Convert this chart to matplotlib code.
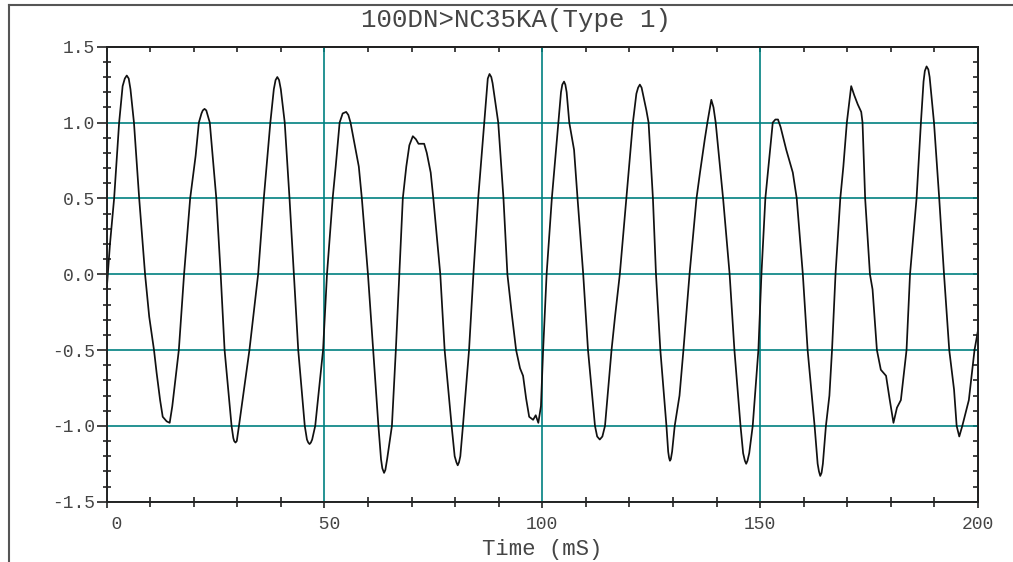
from matplotlib import pyplot as plt
from matplotlib.lines import Line2D
from matplotlib.ticker import MultipleLocator, FixedFormatter, FixedLocator

# readings: time (ms) and amplitude
t = [0.0, 0.8, 1.75, 2.9, 3.7, 4.2, 4.65, 5.1, 5.5, 6.3, 7.5, 8.85, 9.8, 10.9, 11.5, 12.3, 12.9, 13.8, 14.5,
     15.1, 16.6, 17.8, 19.2, 20.45, 21.2, 21.8, 22.1, 22.5, 22.9, 23.1, 23.7, 25.2, 26.2, 27.1, 28.7, 29.1,
     29.3, 29.6, 29.9, 30.0, 30.4, 32.8, 34.8, 36.1, 37.6, 38.4, 38.8, 39.2, 39.6, 40.0, 40.9, 42.0, 43.0,
     44.0, 45.5, 46.0, 46.3, 46.6, 46.9, 47.2, 47.9, 49.7, 50.6, 51.9, 52.6, 53.5, 54.2, 55.0, 55.5, 56.0,
     57.9, 58.6, 60.0, 61.2, 62.4, 63.0, 63.3, 63.7, 64.0, 64.4, 65.5, 66.4, 67.2, 68.0, 68.8, 69.5, 70.3,
     71.0, 71.6, 72.9, 73.5, 74.4, 75.0, 76.6, 77.6, 79.2, 79.9, 80.3, 80.6, 80.9, 81.2, 81.8, 83.2, 84.2,
     85.3, 86.7, 87.3, 87.5, 87.9, 88.3, 88.6, 89.9, 91.1, 92.0, 93.0, 94.0, 94.9, 95.6, 96.3, 97.0, 97.9,
     98.5, 99.1, 99.7, 100.2, 101.0, 102.2, 103.7, 104.3, 104.6, 105.0, 105.3, 105.6, 106.2, 107.3, 108.1,
     109.4, 110.5, 112.1, 112.6, 113.2, 113.8, 114.4, 115.9, 116.7, 117.8, 119.3, 120.8, 121.6, 122.0,
     122.4, 122.8, 123.1, 123.9, 124.4, 125.4, 126.1, 127.1, 128.5, 128.9, 129.1, 129.3, 129.5, 129.8,
     130.4, 131.5, 132.4, 133.8, 135.4, 136.2, 137.3, 137.9, 138.8, 139.3, 139.8, 141.5, 143.0, 144.1,
     145.5, 146.1, 146.5, 146.8, 147.1, 147.5, 148.3, 149.6, 150.3, 151.2, 152.9, 153.5, 154.1, 154.7,
     156.0, 157.5, 158.4, 159.8, 160.9, 162.5, 163.2, 163.5, 163.8, 164.1, 164.4, 165.1, 165.9, 166.5,
     167.3, 168.4, 169.1, 169.9, 170.9, 171.6, 172.4, 173.2, 173.5, 174.1, 175.2, 175.8, 176.8, 177.7,
     178.9, 179.7, 180.6, 181.4, 182.3, 183.6, 184.4, 185.9, 186.9, 187.5, 187.8, 188.2, 188.6, 188.9,
     189.9, 191.1, 192.2, 193.4, 194.5, 195.1, 195.7, 196.4, 197.9, 199.2, 200.0]
v = [-0.12, 0.2, 0.5, 1.0, 1.24, 1.29, 1.31, 1.29, 1.22, 1.0, 0.5, 0.0, -0.28, -0.5, -0.65, -0.83, -0.94, -0.97, -0.98,
     -0.87, -0.5, 0.0, 0.5, 0.78, 1.0, 1.06, 1.08, 1.09, 1.08, 1.06, 1.0, 0.5, 0.0, -0.5, -1.0, -1.08,
     -1.10, -1.11, -1.10, -1.08, -1.0, -0.5, 0.0, 0.5, 1.0, 1.22, 1.28, 1.30, 1.28, 1.22, 1.0, 0.5, 0.0,
     -0.5, -1.0, -1.09, -1.11, -1.12, -1.11, -1.09, -1.0, -0.5, 0.0, 0.5, 0.71, 1.0, 1.06, 1.07, 1.05, 1.0,
     0.71, 0.5, 0.0, -0.5, -1.0, -1.22, -1.28, -1.31, -1.29, -1.22, -1.0, -0.5, 0.0, 0.5, 0.71, 0.85, 0.91,
     0.89, 0.86, 0.86, 0.8, 0.67, 0.5, 0.0, -0.5, -1.0, -1.2, -1.24, -1.26, -1.24, -1.2, -1.0, -0.5, 0.0,
     0.5, 1.0, 1.22, 1.29, 1.32, 1.30, 1.26, 1.0, 0.5, 0.0, -0.26, -0.5, -0.62, -0.67, -0.82, -0.94, -0.96,
     -0.93, -0.98, -0.87, -0.5, 0.0, 0.5, 1.0, 1.2, 1.25, 1.27, 1.25, 1.2, 1.0, 0.82, 0.5,
     0.0, -0.5, -1.0, -1.07, -1.09, -1.07, -1.0, -0.5, -0.28, 0.0, 0.5, 1.0, 1.19, 1.23,
     1.25, 1.23, 1.19, 1.08, 1.0, 0.5, 0.0, -0.5, -1.0, -1.17, -1.21, -1.23, -1.22, -1.17,
     -1.0, -0.8, -0.5, 0.0, 0.5, 0.67, 0.89, 1.0, 1.15, 1.1, 1.0, 0.5, 0.0, -0.5,
     -1.0, -1.18, -1.23, -1.25, -1.23, -1.18, -1.0, -0.5, 0.0, 0.5, 1.0, 1.02, 1.02, 0.97,
     0.82, 0.67, 0.5, 0.0, -0.5, -1.0, -1.25, -1.30, -1.33, -1.31, -1.25, -1.0, -0.8, -0.5,
     0.0, 0.5, 0.71, 1.0, 1.24, 1.18, 1.12, 1.07, 1.0, 0.5, 0.0, -0.1, -0.5, -0.63,
     -0.67, -0.82, -0.98, -0.88, -0.83, -0.5, 0.0, 0.5, 1.0, 1.27, 1.34, 1.37, 1.35, 1.3,
     1.0, 0.5, 0.0, -0.5, -0.76, -1.0, -1.07, -1.0, -0.83, -0.5, -0.37]

title = '100DN>NC35KA(Type 1)'
xlabel = 'Time (mS)'
xticks = [0, 50, 100, 150, 200]
xticklabels = ['  0', ' 50', '100', '150', '200']
yticks = [-1.5, -1.0, -0.5, 0.0, 0.5, 1.0, 1.5]

W, H = 1013, 562
txt = '#454545'
grid = '#008080'
mono = ['Liberation Mono', 'DejaVu Sans Mono']

fig = plt.figure(figsize=(W/100, H/100), dpi=100)
fig.patch.set_facecolor('white')
L, R, T, B = 106.5, 978, 46.7, 501.7
ax = fig.add_axes((L/W, 1-B/H, (R-L)/W, (B-T)/H))
ax.plot(t, v, color='#111111', lw=1.25, solid_joinstyle='round')
ax.set_xlim(0, 200)
ax.set_ylim(-1.5, 1.5)

ax.xaxis.set_major_locator(FixedLocator(xticks))
ax.xaxis.set_major_formatter(FixedFormatter(xticklabels))
ax.xaxis.set_minor_locator(MultipleLocator(10))
ax.yaxis.set_major_locator(FixedLocator(yticks))
ax.set_yticklabels([f'{y:.1f}' for y in yticks])
ax.yaxis.set_minor_locator(MultipleLocator(0.1))

ax.tick_params(axis='x', which='major', direction='out', length=4.3, width=1.2, pad=5.8, top=False, colors='#222222', labelcolor=txt)
ax.tick_params(axis='x', which='minor', direction='inout', length=7.2, width=1.2, top=False, color='#222222')
ax.tick_params(axis='y', which='major', direction='out', length=7.0, width=1.2, pad=1.0, right=False, colors='#222222', labelcolor=txt)
ax.tick_params(axis='y', which='minor', direction='inout', length=5.8, width=1.2, right=False, color='#222222')
for lb in ax.get_xticklabels() + ax.get_yticklabels():
  lb.set_family(mono)
  lb.set_fontsize(13)

ax.grid(which='major', color=grid, lw=1.2)
for s in ax.spines.values():
  s.set_linewidth(1.4)
  s.set_color('#222222')

# inward ticks on top and right
secx = ax.secondary_xaxis('top')
secx.set_xticks(list(range(0, 201, 10)))
secx.tick_params(direction='in', length=3.6, width=1.2, labeltop=False, color='#222222')
secx.spines['top'].set_linewidth(1.4)
secy = ax.secondary_yaxis('right')
secy.set_yticks([i/10 for i in range(-15, 16)])
secy.tick_params(direction='in', length=3.6, width=1.2, labelright=False, color='#222222')
secy.spines['right'].set_linewidth(1.4)

fig.text(516/W, 1-20/H, title, ha='center', va='center', fontsize=18.5, family=mono, color=txt)
fig.text((L+R)/2/W, 1-549/H, xlabel, ha='center', va='center', fontsize=16, family=mono, color=txt)

# page frame
fig.add_artist(Line2D([9/W, 1], [1-5/H, 1-5/H], color='#555555', lw=1.5))
fig.add_artist(Line2D([9/W, 9/W], [1-5/H, 0], color='#555555', lw=1.5))

fig.savefig('out.png', dpi=100)
